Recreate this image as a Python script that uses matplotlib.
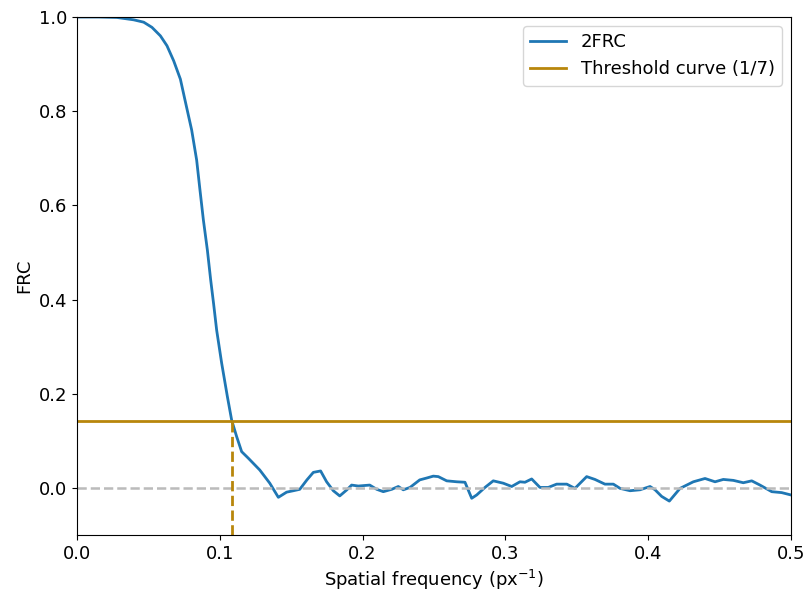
import numpy as np
import matplotlib.pyplot as plt

# FRC curve samples (spatial frequency in px^-1, correlation)
freq = [0.0, 0.015, 0.028, 0.0397, 0.0467, 0.0525, 0.0584, 0.063, 0.0677, 0.0724,
        0.0756, 0.0803, 0.0838, 0.0861, 0.0885, 0.0913, 0.0936, 0.0957, 0.0978, 0.1013,
        0.1053, 0.1083, 0.1118, 0.1153, 0.120, 0.128,
        0.135, 0.141, 0.1468, 0.1515, 0.156, 0.161, 0.1655, 0.1706, 0.1748, 0.1795,
        0.184, 0.189, 0.1923, 0.197, 0.205, 0.2099, 0.2145, 0.2204, 0.225, 0.2285,
        0.2332, 0.240, 0.2449, 0.2495, 0.253, 0.2589, 0.266, 0.2717, 0.2764, 0.2799,
        0.2857, 0.2915, 0.2985, 0.3044, 0.3102, 0.3137, 0.3184, 0.3242, 0.330, 0.3359,
        0.343, 0.3487, 0.3569, 0.3627, 0.3697, 0.3756, 0.3803, 0.3873, 0.3943, 0.4013,
        0.4048, 0.4094, 0.4148, 0.4223, 0.4316, 0.4398, 0.4468, 0.4526, 0.4596, 0.4666,
        0.4725, 0.4783, 0.4865, 0.4935, 0.5]
frc = [1.0, 1.0, 0.999, 0.994, 0.989, 0.978, 0.960, 0.939, 0.907, 0.868,
       0.824, 0.760, 0.696, 0.633, 0.569, 0.505, 0.442, 0.390, 0.335, 0.265,
       0.194, 0.144, 0.109, 0.077, 0.063, 0.038,
       0.010, -0.020, -0.009, -0.006, -0.003, 0.017, 0.033, 0.036, 0.013, -0.006,
       -0.017, -0.004, 0.006, 0.004, 0.006, -0.003, -0.008, -0.003, 0.003, -0.004,
       0.001, 0.017, 0.021, 0.025, 0.024, 0.015, 0.013, 0.012, -0.022, -0.015,
       0.001, 0.015, 0.010, 0.003, 0.013, 0.012, 0.019, 0.001, 0.001, 0.008,
       0.008, -0.001, 0.024, 0.018, 0.008, 0.008, -0.001, -0.006, -0.004, 0.003,
       -0.004, -0.018, -0.028, -0.001, 0.013, 0.020, 0.013, 0.018, 0.016, 0.011,
       0.015, 0.006, -0.008, -0.010, -0.015]
threshold = 1 / 7

freq = np.array(freq)
frc = np.array(frc)

# first crossing of the threshold on the falling edge
i = np.where(frc < threshold)[0][0]
x_cross = np.interp(threshold, [frc[i], frc[i - 1]], [freq[i], freq[i - 1]])

fig = plt.figure(figsize=(8.06, 5.94), dpi=100)
ax = fig.add_axes([77 / 806, 59 / 594, 714 / 806, 518 / 594])

ax.plot(freq, frc, color='#1f77b4', linewidth=2, label='2FRC')
ax.axhline(threshold, color='darkgoldenrod', linewidth=2, label='Threshold curve (1/7)')
ax.axhline(0, color='#bbbbbb', linestyle='--', linewidth=1.8)
ax.plot([x_cross, x_cross], [-0.1, threshold], color='darkgoldenrod',
        linestyle='--', linewidth=2)

ax.set_xlim(0, 0.5)
ax.set_ylim(-0.1, 1.0)
ax.set_xlabel('Spatial frequency (px$^{-1}$)', fontsize=13)
ax.set_ylabel('FRC', fontsize=13)
ax.tick_params(labelsize=13)
ax.legend(loc='upper right', fontsize=13)

fig.savefig('out.png', dpi=100)
